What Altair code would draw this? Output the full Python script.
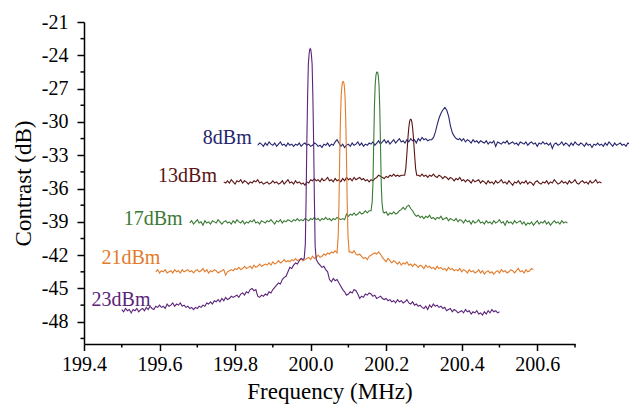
import altair as alt
import pandas as pd

SERIES = ["8dBm", "13dBm", "17dBm", "21dBm", "23dBm"]
COLORS = ["#26266e", "#5a1414", "#3b7a35", "#e27b2a", "#5b2479"]
STARTS = [199.86, 199.77, 199.68, 199.59, 199.50]
STEP = 0.005
PEAK_CENTERS = [200.3555, 200.265, 200.176, 200.086, 199.999]

X_MAJOR = [199.4, 199.6, 199.8, 200.0, 200.2, 200.4, 200.6]
X_MINOR = [199.5, 199.7, 199.9, 200.1, 200.3, 200.5, 200.7]
Y_MAJOR = [-48, -45, -42, -39, -36, -33, -30, -27, -24, -21]
Y_MINOR = [-49.5, -46.5, -43.5, -40.5, -37.5, -34.5, -31.5, -28.5, -25.5, -22.5]

Y_8 = [
    -32.1, -31.9, -32.0, -32.2, -31.9, -32.1, -31.8, -32.0, -32.1, -31.9, -32.2, -32.0, -31.8, -32.1, -32.0, -32.2, -31.9, -32.1, -32.0, -32.2,
    -32.0, -32.1, -31.9, -32.2, -32.0, -31.9, -32.1, -32.0, -32.2, -32.1, -31.9, -32.0, -32.2, -32.1, -32.3, -32.0, -32.1, -31.9, -32.2, -32.0,
    -32.1, -31.8, -31.6, -31.9, -32.2, -32.0, -32.3, -32.1, -32.0, -32.2, -31.9, -32.1, -32.0, -31.8, -32.1, -31.9, -32.2, -32.0, -32.1, -31.9,
    -32.0, -31.8, -32.1, -31.9, -31.7, -32.0, -31.8, -31.6, -31.9, -31.7, -32.0, -31.8, -31.6, -31.9, -31.7, -31.5, -31.8, -31.7, -31.9, -31.6,
    -31.8, -31.5, -31.7, -31.6, -31.9, -31.5, -31.7, -31.4, -31.6, -31.5, -31.7, -31.6, -31.6, -31.6, -31.6, -31.6, -31.6, -31.6, -31.6, -31.6,
    -31.6, -31.6, -31.6, -31.6, -31.6, -31.6, -31.6, -31.5, -31.7, -31.5, -31.8, -31.6, -31.7, -31.9, -31.6, -31.8, -31.7, -31.9, -31.7, -31.8,
    -31.9, -31.7, -32.0, -31.8, -31.9, -31.7, -32.2, -31.8, -31.9, -32.0, -31.8, -31.9, -31.7, -32.0, -31.9, -31.8, -32.0, -31.9, -32.1, -31.8,
    -31.9, -32.0, -31.8, -32.1, -31.9, -31.8, -32.0, -31.9, -32.2, -31.9, -32.0, -31.8, -32.0, -31.9, -32.1, -31.9, -32.4, -32.0, -31.9, -32.1,
    -32.0, -31.8, -32.1, -31.9, -32.0, -32.2, -31.9, -32.1, -31.8, -32.0, -32.1, -31.9, -32.0, -32.2, -31.9, -32.1, -32.0, -32.3, -32.0, -32.1,
    -31.9, -32.1, -32.0, -32.2, -31.9, -32.1, -31.8, -32.0, -32.2, -31.9, -32.1, -32.0, -31.9, -32.1, -32.0, -32.2, -31.9, -32.0, -32.1, -31.9, -32.0,
]

Y_13 = [
    -35.4, -35.5, -35.3, -35.5, -35.2, -35.4, -35.6, -35.3, -35.4, -35.2, -35.5, -35.3, -35.4, -35.6, -35.4, -35.5, -35.3, -35.4, -35.2, -35.5,
    -35.4, -35.6, -35.5, -35.4, -35.6, -35.5, -35.3, -35.5, -35.4, -35.6, -35.5, -35.3, -35.6, -35.4, -35.2, -35.5, -35.4, -35.6, -35.3, -35.5,
    -35.4, -35.6, -35.5, -35.7, -35.4, -35.5, -35.2, -35.3, -35.1, -35.3, -35.2, -35.4, -35.1, -35.3, -35.2, -35.0, -35.3, -35.2, -35.4, -35.1,
    -35.3, -35.2, -35.4, -35.1, -35.3, -35.0, -35.2, -35.1, -35.3, -35.0, -35.2, -35.1, -35.0, -35.2, -35.1, -35.3, -35.2, -35.4, -35.2, -35.3,
    -35.1, -35.0, -34.8, -34.9, -35.0, -35.1, -34.9, -35.0, -34.8, -34.9, -34.7, -34.9, -34.8, -34.9, -34.8, -34.8, -34.8, -34.8, -34.8, -34.8,
    -34.8, -34.8, -34.8, -34.8, -34.9, -34.7, -34.9, -34.8, -35.0, -34.8, -34.9, -34.7, -34.9, -35.0, -34.8, -34.9, -35.1, -34.9, -35.0, -35.2,
    -35.0, -35.1, -35.3, -35.1, -35.2, -35.0, -35.3, -35.2, -35.4, -35.2, -35.3, -35.5, -35.2, -35.4, -35.3, -35.2, -35.5, -35.3, -35.4, -35.6,
    -35.3, -35.5, -35.4, -35.6, -35.3, -35.5, -35.4, -35.2, -35.5, -35.4, -35.6, -35.3, -35.5, -35.7, -35.4, -35.5, -35.3, -35.6, -35.4, -35.5,
    -35.3, -35.6, -35.4, -35.5, -35.7, -35.4, -35.3, -35.5, -35.6, -35.4, -35.5, -35.3, -35.6, -35.4, -35.5, -35.2, -35.4, -35.6, -35.5, -35.3,
    -35.5, -35.4, -35.6, -35.3, -35.5, -35.4, -35.2, -35.5, -35.6, -35.4, -35.3, -35.5, -35.4, -35.6, -35.3, -35.5, -35.4, -35.2, -35.5, -35.4, -35.5,
]

Y_17 = [
    -39.1, -38.9, -39.2, -39.0, -38.8, -39.1, -39.0, -39.3, -38.9, -39.1, -39.0, -39.2, -38.9, -39.0, -39.1, -38.8, -39.0, -39.2, -39.0, -38.9,
    -39.1, -39.0, -39.2, -38.9, -39.1, -38.8, -39.0, -39.1, -38.9, -39.2, -39.0, -39.1, -38.9, -39.0, -38.8, -39.1, -39.0, -39.2, -38.9, -39.0,
    -39.1, -38.9, -39.0, -38.8, -39.0, -39.2, -38.9, -39.0, -38.8, -39.1, -38.9, -39.0, -38.8, -38.9, -39.0, -38.8, -38.9, -38.7, -38.9, -38.8,
    -38.9, -38.7, -38.8, -38.9, -38.7, -38.8, -38.6, -38.8, -38.7, -38.9, -38.7, -38.8, -38.6, -38.8, -38.7, -38.9, -38.7, -38.8, -38.6, -38.7,
    -38.8, -38.7, -38.8, -38.3, -38.5, -38.3, -38.4, -38.2, -38.4, -38.3, -38.1, -38.3, -38.2, -38.0, -38.2, -38.0, -38.0, -38.0, -38.0, -38.0,
    -38.0, -38.0, -38.0, -38.2, -38.1, -38.4, -38.2, -38.3, -38.1, -38.3, -38.2, -38.0, -37.9, -37.7, -37.9, -37.6, -37.5, -37.8, -38.0, -38.3,
    -38.5, -38.4, -38.6, -38.5, -38.7, -38.5, -38.6, -38.4, -38.7, -38.6, -38.8, -38.6, -38.7, -38.5, -38.8, -38.7, -38.6, -38.9, -38.7, -38.8,
    -38.9, -38.7, -39.0, -38.8, -38.9, -39.1, -38.8, -39.0, -38.9, -39.2, -38.9, -39.1, -39.0, -38.8, -39.1, -39.0, -39.2, -38.9, -39.1, -39.0,
    -39.2, -38.9, -39.1, -39.0, -38.8, -39.1, -39.0, -39.3, -38.9, -39.1, -39.0, -39.2, -38.9, -39.1, -39.0, -38.9, -39.2, -39.0, -39.3, -39.1,
    -39.2, -39.0, -39.3, -39.1, -38.9, -39.2, -39.0, -39.1, -38.9, -39.2, -39.0, -39.3, -39.1, -38.9, -39.1, -39.0, -39.2, -38.9, -39.1, -39.0, -39.1,
]

Y_21 = [
    -43.5, -43.3, -43.6, -43.4, -43.5, -43.3, -43.6, -43.5, -43.4, -43.6, -43.3, -43.5, -43.4, -43.6, -43.3, -43.5, -43.4, -43.3, -43.5, -43.4,
    -43.6, -43.4, -43.3, -43.5, -43.4, -43.2, -43.5, -43.3, -43.6, -43.4, -43.5, -43.3, -43.4, -43.6, -43.5, -43.4, -43.3, -43.8, -43.5, -43.4,
    -43.3, -43.4, -43.2, -43.3, -43.1, -43.3, -43.2, -43.0, -43.2, -43.1, -43.0, -43.2, -42.9, -43.1, -43.0, -42.8, -43.0, -42.9, -42.8, -42.9,
    -42.7, -42.9, -42.6, -42.8, -42.7, -42.5, -42.7, -42.6, -42.4, -42.6, -42.5, -42.6, -42.4, -42.5, -42.3, -42.5, -42.4, -42.3, -42.5, -42.4,
    -42.3, -42.2, -42.4, -42.1, -42.3, -42.2, -42.0, -42.2, -42.1, -41.9, -42.0, -41.8, -41.9, -41.7, -41.8, -41.6, -41.7, -41.7, -41.7, -41.7,
    -41.7, -41.7, -41.7, -41.7, -41.8, -41.6, -41.9, -42.0, -41.9, -42.1, -42.3, -42.2, -42.4, -42.1, -42.0, -41.9, -41.8, -41.9, -41.7, -41.9,
    -42.2, -42.4, -42.6, -42.3, -42.5, -42.7, -42.5, -42.6, -42.8, -42.6, -42.9, -42.7, -42.8, -42.6, -42.9, -42.8, -43.0, -42.8, -42.9, -43.1,
    -42.9, -43.0, -43.2, -42.9, -43.1, -43.0, -43.2, -43.1, -43.3, -43.0, -43.2, -43.1, -43.3, -43.2, -43.4, -43.1, -43.3, -43.2, -43.4, -43.3,
    -43.4, -43.2, -43.5, -43.3, -43.4, -43.6, -43.3, -43.5, -43.4, -43.6, -43.5, -43.3, -43.6, -43.4, -43.7, -43.5, -43.4, -43.6, -43.5, -43.7,
    -43.5, -43.4, -43.6, -43.3, -43.5, -43.4, -43.6, -43.5, -43.3, -43.4, -43.6, -43.4, -43.2, -43.5, -43.4, -43.6, -43.3, -43.5, -43.4, -43.2, -43.3,
]

Y_23 = [
    -46.9, -47.1, -46.8, -47.0, -46.9, -47.2, -46.9, -47.0, -46.8, -47.1, -46.9, -46.8, -47.0, -46.7, -46.9, -46.6, -46.8, -46.9, -46.6, -46.7,
    -46.5, -46.7, -46.6, -46.8, -46.4, -46.6, -46.5, -46.3, -46.6, -46.4, -46.5, -46.3, -46.6, -46.5, -46.7, -46.6, -46.8, -46.7, -46.9, -46.7,
    -46.8, -46.6, -46.7, -46.5, -46.6, -46.3, -46.4, -46.2, -46.4, -46.1, -46.2, -46.0, -46.2, -45.9, -46.1, -45.8, -46.0, -45.9, -45.7, -45.8,
    -45.7, -45.6, -45.8, -45.5, -45.4, -45.6, -45.3, -45.4, -45.1, -45.0, -45.2, -45.1, -45.7, -45.8, -45.6, -45.7, -45.5, -45.6, -45.3, -45.4,
    -45.1, -44.9, -44.7, -44.5, -44.6, -44.2, -44.0, -43.9, -43.5, -43.1, -43.2, -42.9, -42.7, -42.8, -42.5, -42.3, -42.4, -42.2, -42.3, -42.3,
    -42.3, -42.3, -42.3, -42.3, -42.7, -42.9, -43.1, -43.0, -43.3, -43.5, -44.2, -44.4, -44.1, -44.3, -44.2, -44.5, -44.8, -45.1, -45.3, -45.6,
    -45.5, -45.3, -45.4, -45.1, -45.2, -45.5, -45.9, -45.7, -45.8, -45.5, -45.6, -45.4, -45.5, -45.7, -45.6, -45.9, -45.8, -45.7, -45.9, -46.0,
    -45.9, -46.1, -46.0, -46.2, -46.1, -46.3, -46.0, -46.2, -46.1, -46.3, -46.2, -46.0, -46.3, -46.4, -46.2, -46.5, -46.4, -46.6, -46.5, -46.7,
    -46.8, -46.6, -46.9, -46.5, -46.7, -46.4, -46.6, -46.5, -46.7, -46.6, -46.8, -46.7, -47.0, -46.9, -46.8, -47.1, -46.9, -47.0, -47.2, -47.1,
    -47.0, -47.2, -46.9, -47.1, -47.0, -47.3, -47.1, -47.2, -47.0, -47.3, -47.2, -47.4, -47.1, -47.3, -47.0, -47.2, -46.9, -47.1, -47.0, -47.2, -47.1,
]

# Resonance peaks: offsets (MHz) from the peak centre and their values (dB)
PEAK_DX = [-0.016, -0.013, -0.011, -0.009, -0.007, -0.005, -0.003, -0.0015, 0.0,
           0.0015, 0.003, 0.005, 0.007, 0.009, 0.011, 0.013, 0.016]
PEAK_DX_8 = [-0.035, -0.03, -0.025, -0.02, -0.015, -0.01, -0.005, 0.0,
             0.005, 0.01, 0.015, 0.02, 0.025, 0.03, 0.035]
PEAK_8 = [-31.6, -31.4, -30.9, -30.2, -29.6, -29.2, -28.9, -28.7,
          -28.95, -29.5, -30.4, -31.0, -31.3, -31.5, -31.6]
PEAK_13 = [-34.8, -34.2, -33.3, -32.3, -31.3, -30.5, -30.0, -29.8, -29.75,
           -29.8, -30.0, -30.5, -31.3, -32.3, -33.3, -34.2, -34.8]
PEAK_17 = [-38.0, -37.2, -35.6, -32.0, -28.6, -26.6, -25.8, -25.55, -25.5,
           -25.55, -25.8, -26.6, -28.6, -32.0, -35.6, -37.3, -38.1]
PEAK_21 = [-41.8, -40.3, -37.5, -33.3, -29.8, -27.6, -26.7, -26.4, -26.35,
           -26.4, -26.7, -27.6, -29.8, -33.3, -37.5, -40.3, -41.7]
PEAK_23 = [-42.3, -41.0, -37.0, -31.8, -27.8, -24.8, -23.9, -23.5, -23.4,
           -23.5, -23.9, -24.8, -27.8, -31.8, -37.0, -41.2, -42.4]

GRIDS = [Y_8, Y_13, Y_17, Y_21, Y_23]
PEAKS = [(PEAK_DX_8, PEAK_8), (PEAK_DX, PEAK_13), (PEAK_DX, PEAK_17),
         (PEAK_DX, PEAK_21), (PEAK_DX, PEAK_23)]

LABEL_X = [199.844, 199.752, 199.661, 199.602, 199.576]
LABEL_Y = [-32.0, -35.45, -39.3, -42.8, -46.6]

rows = []
for name, start, pc, grid, (pdx, pv) in zip(SERIES, STARTS, PEAK_CENTERS, GRIDS, PEAKS):
    w = max(abs(d) for d in pdx) + 1e-9
    pts = []
    for i, v in enumerate(grid):
        xv = start + STEP * i
        if abs(xv - pc) <= w:
            continue
        pts.append((xv, v))
    for d, v in zip(pdx, pv):
        pts.append((pc + d, v))
    pts.sort()
    for xv, v in pts:
        rows.append({"series": name, "x": xv, "y": v})
df = pd.DataFrame(rows)

lab = pd.DataFrame({"series": SERIES, "x": LABEL_X, "y": LABEL_Y, "label": SERIES})
xminor = pd.DataFrame({"x": X_MINOR})
yminor = pd.DataFrame({"y": Y_MINOR})

FONT = "Times New Roman"
W, H = 491, 322
color_scale = alt.Scale(domain=SERIES, range=COLORS)
xs = alt.Scale(domain=[199.4, 200.7], nice=False, zero=False)
ys = alt.Scale(domain=[-50, -21], nice=False, zero=False)

AXIS_STYLE = dict(
    grid=False, labelFlush=False, labelOverlap=False,
    domainColor="black", domainWidth=1.5, tickColor="black", tickWidth=1.5,
    labelFont=FONT, labelFontSize=20, labelColor="black",
    titleFont=FONT, titleFontSize=23, titleFontWeight="normal", titleColor="black",
)

x_axis = alt.Axis(
    values=X_MAJOR, format=".1f", tickSize=6.5, title="Frequency (MHz)",
    labelPadding=4, titlePadding=6, **AXIS_STYLE,
)
y_axis = alt.Axis(
    values=Y_MAJOR, labelExpr="'-' + format(abs(datum.value), 'd')", tickSize=7,
    title="Contrast (dB)", labelPadding=9, titlePadding=6, **AXIS_STYLE,
)

X_ENC = alt.X("x:Q", scale=xs, axis=x_axis)
Y_ENC = alt.Y("y:Q", scale=ys, axis=y_axis)

lines = alt.Chart(df).mark_line(strokeWidth=1.1).encode(
    x=X_ENC, y=Y_ENC,
    color=alt.Color("series:N", scale=color_scale, legend=None),
)

labels = alt.Chart(lab).mark_text(font=FONT, fontSize=20, align="right", baseline="alphabetic").encode(
    x=X_ENC, y=Y_ENC, text="label:N",
    color=alt.Color("series:N", scale=color_scale, legend=None),
)

xminor_ticks = alt.Chart(xminor).mark_rule(color="black", strokeWidth=1.5).encode(
    x=X_ENC, y=alt.value(H), y2=alt.value(H + 3.5),
)
yminor_ticks = alt.Chart(yminor).mark_rule(color="black", strokeWidth=1.5).encode(
    y=Y_ENC, x=alt.value(0), x2=alt.value(-3.5),
)

chart = alt.layer(lines, labels, xminor_ticks, yminor_ticks).properties(
    width=W, height=H,
    padding={"left": 84, "top": 22, "right": 54, "bottom": 62},
    autosize="none",
).configure(font=FONT).configure_view(stroke=None).configure_axis(
    labelFont=FONT, titleFont=FONT,
)

chart.save("out.html", embed_options={"renderer": "svg", "actions": False})
